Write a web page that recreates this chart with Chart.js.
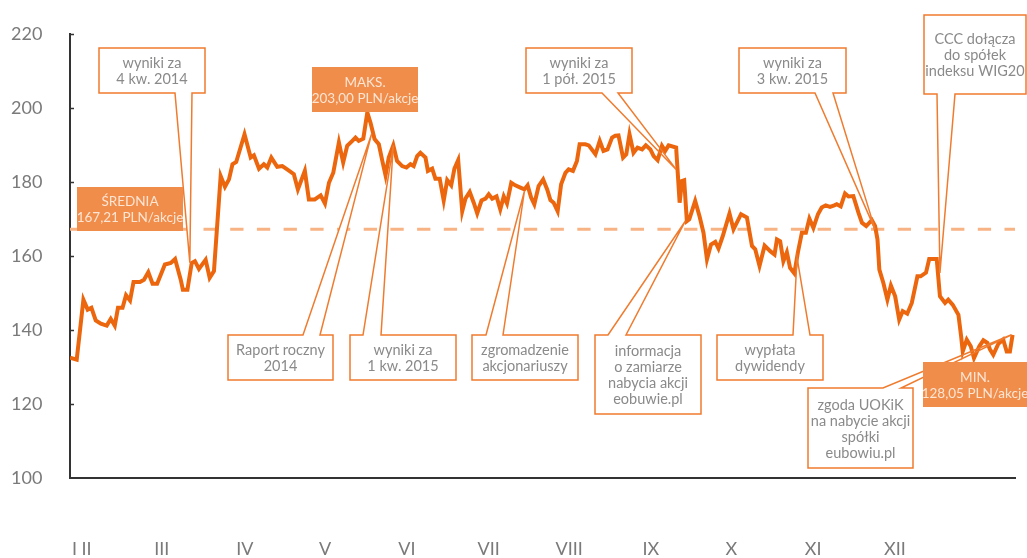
<!DOCTYPE html>
<html>
<head>
<meta charset="utf-8">
<script src="https://cdn.jsdelivr.net/npm/chart.js@4.4.1/dist/chart.umd.min.js"></script>
<style>
  html, body { margin: 0; padding: 0; background: #fff; overflow: hidden; }
  #wrap { width: 1027px; height: 558px; }
</style>
</head>
<body>
<div id="wrap"><canvas id="chart" width="1027" height="558"></canvas></div>
<script>
// Price of CCC shares (PLN) - x is the day of the year (0 = 1 Jan)
const days = [
  24.8, 27.3, 29.8, 31.4, 32.8, 34.4, 36.3, 38.5, 40.0, 41.5,
  42.7, 44.4, 45.7, 47.2, 48.5, 50.9, 52.4, 54.0, 55.6, 57.3,
  60.2, 62.4, 64.0, 66.1, 66.9, 68.6, 70.2, 71.4, 72.9, 75.4,
  76.9, 78.5, 81.0, 82.6, 84.1, 85.4, 86.8, 89.9, 92.2, 93.4,
  95.3, 97.1, 98.4, 99.9, 102.1, 104.0, 105.8, 108.3, 109.8, 112.4,
  113.9, 116.1, 118.3, 119.9, 121.4, 123.0, 125.1, 126.7, 128.2, 130.1,
  131.3, 132.5, 134.2, 135.7, 136.9, 138.4, 140.0, 141.3, 142.5, 143.7,
  145.4, 146.8, 148.7, 150.3, 151.8, 153.0, 154.3, 155.5, 157.4, 158.3,
  159.9, 161.1, 162.7, 164.2, 165.5, 167.0, 168.2, 169.6, 171.1, 172.3,
  173.9, 175.4, 176.7, 178.3, 179.8, 181.0, 182.3, 183.9, 185.3, 186.6,
  187.8, 189.4, 190.9, 192.8, 194.3, 195.5, 196.8, 198.0, 199.6, 201.3,
  202.8, 204.0, 205.2, 206.7, 208.0, 209.6, 210.8, 212.4, 213.9, 214.9,
  217.0, 218.3, 220.8, 222.4, 223.8, 225.3, 227.0, 228.2, 229.4, 231.1,
  232.3, 233.5, 235.0, 236.5, 238.2, 239.6, 241.3, 242.5, 244.0, 245.6,
  246.8, 248.1, 250.9, 252.2, 253.1, 253.9, 254.9, 255.8, 258.0, 259.6,
  261.1, 262.4, 263.9, 265.5, 266.7, 268.3, 270.8, 272.3, 275.1, 277.3,
  279.2, 280.4, 282.0, 283.9, 286.0, 287.6, 288.5, 289.7, 290.9, 292.2,
  293.4, 295.0, 296.3, 297.8, 299.3, 300.6, 302.1, 303.8, 305.2, 306.7,
  308.3, 309.9, 310.8, 312.3, 313.9, 315.2, 317.0, 318.9, 320.2, 321.8,
  323.9, 325.1, 326.0, 326.7, 328.2, 329.7, 331.0, 332.6, 334.1, 335.4,
  337.1, 338.8, 340.9, 342.1, 344.1, 345.3, 348.1, 349.3, 351.2, 352.4,
  354.1, 356.2, 357.2, 357.8, 359.3, 360.8, 362.0, 364.0, 365.5, 367.0,
  368.0, 369.2, 371.1, 372.9, 374.2, 375.4, 376.4
];
const prices = [
  132.5, 132.0, 148.2, 145.5, 146.0, 142.6, 141.7, 141.2, 143.0, 141.2,
  146.0, 146.0, 149.4, 148.0, 153.0, 153.0, 153.6, 155.6, 152.5, 152.5,
  157.7, 158.1, 159.2, 153.6, 150.9, 150.9, 158.1, 158.6, 156.5, 159.0,
  154.1, 155.9, 181.6, 178.7, 180.7, 184.8, 185.4, 192.9, 186.6, 187.2,
  183.6, 184.8, 183.9, 186.6, 184.1, 184.3, 183.4, 182.1, 178.0, 183.0,
  175.3, 175.3, 176.4, 174.2, 179.8, 182.5, 190.7, 185.3, 189.8, 191.1,
  192.0, 191.1, 191.7, 198.8, 196.0, 191.6, 190.2, 185.7, 181.8, 186.6,
  189.9, 185.7, 184.3, 183.9, 184.8, 184.3, 187.0, 187.9, 186.6, 183.0,
  183.6, 180.9, 180.9, 175.0, 180.5, 179.1, 183.6, 185.9, 172.1, 175.5,
  177.3, 174.4, 171.5, 175.0, 175.5, 176.7, 175.5, 176.1, 172.6, 176.1,
  174.2, 179.8, 179.1, 178.5, 178.0, 179.1, 175.8, 174.0, 178.9, 180.7,
  178.0, 175.1, 174.4, 172.1, 179.4, 182.5, 183.4, 183.0, 185.7, 190.2,
  190.2, 189.9, 187.5, 191.1, 188.4, 188.8, 192.0, 192.5, 192.6, 186.6,
  187.5, 192.9, 187.9, 189.3, 188.8, 189.9, 188.8, 187.0, 185.9, 189.8,
  188.4, 189.9, 189.3, 174.4, 180.3, 180.5, 169.4, 169.9, 174.9, 170.8,
  166.3, 159.1, 163.1, 163.8, 162.0, 165.4, 171.5, 167.2, 171.3, 170.4,
  162.7, 161.8, 157.3, 162.8, 161.3, 160.4, 164.5, 164.0, 158.6, 161.0,
  156.8, 155.3, 160.9, 166.3, 166.3, 170.1, 167.6, 171.3, 173.1, 173.7,
  173.3, 173.7, 174.0, 173.4, 176.9, 176.1, 176.2, 171.7, 169.0, 168.1,
  169.7, 168.1, 164.5, 156.3, 152.7, 148.2, 152.0, 149.1, 142.8, 145.1,
  144.4, 147.3, 154.5, 154.5, 155.5, 159.2, 159.2, 149.1, 147.3, 148.2,
  146.8, 144.1, 138.3, 134.2, 137.4, 135.6, 132.4, 135.6, 137.2, 136.5,
  134.7, 133.3, 136.3, 137.4, 134.2, 134.2, 138.7
];
const avgPrice = 167.21;

// axes
const dayMin = 24.8, dayMax = 377.3;
const monthDays = [26.5, 31.0, 59, 90, 120, 150.5, 181, 211, 241.5, 271.5, 302, 332.5];
const monthLabels = ['I', 'II', 'III', 'IV', 'V', 'VI', 'VII', 'VIII', 'IX', 'X', 'XI', 'XII'];
const yMin = 100, yMax = 220, yStep = 20;

// white callouts: text, box (px) and the point (day, price) they point at
const callouts = [
  { lines: ['wyniki za', '4 kw. 2014'], box: [99, 48, 106, 45], base: [175, 192], side: 'bottom', at: [69.5, 158.2] },
  { lines: ['Raport roczny', '2014'], box: [228, 335, 105, 45], base: [303, 320], side: 'top', at: [137.3, 193.0] },
  { lines: ['wyniki za', '1 kw. 2015'], box: [350, 335, 106, 45], base: [363, 381], side: 'top', at: [145.4, 189.9] },
  { lines: ['zgromadzenie', 'akcjonariuszy'], box: [472, 335, 106, 45], base: [486, 503], side: 'top', at: [194.3, 177.5] },
  { lines: ['informacja', 'o zamiarze', 'nabycia akcji', 'eobuwie.pl'], box: [595, 335, 106, 79], base: [608, 626], side: 'top', at: [254.3, 169.4] },
  { lines: ['wyniki za', '1 pół. 2015'], box: [526, 48, 106, 45], base: [602, 618], side: 'bottom', at: [250.9, 183.4] },
  { lines: ['wypłata', 'dywidendy'], box: [717, 335, 106, 45], base: [793, 810], side: 'top', at: [296.0, 159.6] },
  { lines: ['wyniki za', '3 kw. 2015'], box: [739, 48, 107, 45], base: [815, 833], side: 'bottom', at: [325.1, 167.2] },
  { lines: ['CCC dołącza', 'do spółek', 'indeksu WIG20'], box: [924, 15, 102, 79], base: [937, 955], side: 'bottom', at: [349.3, 155.4] },
  { lines: ['zgoda UOKiK', 'na nabycie akcji', 'spółki', 'eubowiu.pl'], box: [808, 388, 105, 80], base: [883, 901], side: 'top', at: [376.0, 138.7] }
];

// orange filled tags
const tags = [
  { lines: ['MAKS.', '203,00 PLN/akcje'], box: [312, 67, 106, 45] },
  { lines: ['ŚREDNIA', '167,21 PLN/akcje'], box: [77, 187, 106, 44] },
  { lines: ['MIN.', '128,05 PLN/akcje'], box: [923, 362, 104, 45] }
];

const ORANGE = '#EC660E';
const FONT = 'Lato, "Open Sans", sans-serif';

function calloutPath(ctx, c, ax, ay) {
  const [x, y, w, h] = c.box;
  const [b1, b2] = c.base;
  ctx.beginPath();
  if (c.side === 'top') {
    ctx.moveTo(x, y);
    ctx.lineTo(b1, y);
    ctx.lineTo(ax, ay);
    ctx.lineTo(b2, y);
    ctx.lineTo(x + w, y);
    ctx.lineTo(x + w, y + h);
    ctx.lineTo(x, y + h);
  } else {
    ctx.moveTo(x, y);
    ctx.lineTo(x + w, y);
    ctx.lineTo(x + w, y + h);
    ctx.lineTo(b2, y + h);
    ctx.lineTo(ax, ay);
    ctx.lineTo(b1, y + h);
    ctx.lineTo(x, y + h);
  }
  ctx.closePath();
}

function drawLines(ctx, lines, box, color, size) {
  const [x, y, w, h] = box;
  const lh = 16;
  const cy = y + h / 2 + 1;
  ctx.fillStyle = color;
  ctx.font = size + 'px ' + FONT;
  ctx.textAlign = 'center';
  ctx.textBaseline = 'middle';
  lines.forEach((t, i) => {
    ctx.fillText(t, x + w / 2, cy + (i - (lines.length - 1) / 2) * lh);
  });
}

const annotations = {
  id: 'annotations',
  // white bodies go under the price line
  afterDatasetDraw(chart, args) {
    if (args.index !== 1) return;
    const ctx = chart.ctx;
    const xs = chart.scales.x, ys = chart.scales.y;
    ctx.save();
    ctx.fillStyle = '#fff';
    callouts.forEach(c => {
      calloutPath(ctx, c, xs.getPixelForValue(c.at[0]), ys.getPixelForValue(c.at[1]));
      ctx.fill();
    });
    ctx.restore();
  },
  afterDatasetsDraw(chart) {
    const ctx = chart.ctx;
    const xs = chart.scales.x, ys = chart.scales.y;
    ctx.save();
    // small inner tick marks on the value axis
    ctx.strokeStyle = '#333';
    ctx.lineWidth = 1.5;
    for (let v = yMin + yStep; v <= yMax; v += yStep) {
      const py = Math.round(ys.getPixelForValue(v)) + 0.5;
      ctx.beginPath();
      ctx.moveTo(xs.left, py);
      ctx.lineTo(xs.left + 4, py);
      ctx.stroke();
    }
    ctx.strokeStyle = '#EF7B2E';
    ctx.lineWidth = 1.5;
    ctx.lineJoin = 'miter';
    callouts.forEach(c => {
      calloutPath(ctx, c, xs.getPixelForValue(c.at[0]), ys.getPixelForValue(c.at[1]));
      ctx.stroke();
      drawLines(ctx, c.lines, c.box, '#8a8a8a', 14.5);
    });
    tags.forEach(t => {
      const [x, y, w, h] = t.box;
      ctx.fillStyle = '#F08D4B';
      ctx.fillRect(x, y, w, h);
      drawLines(ctx, t.lines, t.box, '#FDE5D4', 13.5);
    });
    ctx.restore();
  }
};

new Chart(document.getElementById('chart'), {
  type: 'line',
  data: {
    datasets: [
      {
        label: 'CCC',
        data: days.map((d, i) => ({ x: d, y: prices[i] })),
        borderColor: ORANGE,
        borderWidth: 4,
        pointRadius: 0,
        tension: 0,
        fill: false
      },
      {
        label: 'średnia',
        data: [{ x: dayMin, y: avgPrice }, { x: dayMax, y: avgPrice }],
        borderColor: '#F8B384',
        borderWidth: 3,
        borderDash: [13.3, 13.4],
        pointRadius: 0,
        fill: false
      }
    ]
  },
  options: {
    responsive: false,
    animation: false,
    devicePixelRatio: 1,
    layout: { padding: { top: 34, right: 12, left: 11, bottom: 0 } },
    plugins: { legend: { display: false }, tooltip: { enabled: false } },
    scales: {
      x: {
        type: 'linear',
        min: dayMin,
        max: dayMax,
        afterBuildTicks: s => { s.ticks = monthDays.map(v => ({ value: v })); },
        afterFit: s => { s.height = 80; },
        grid: { display: false, drawTicks: false },
        border: { display: true, color: '#333', width: 2 },
        ticks: {
          autoSkip: false,
          maxRotation: 0,
          padding: 60,
          color: '#7a7a7a',
          font: { family: FONT, size: 18 },
          callback: (v, i) => monthLabels[i]
        }
      },
      y: {
        min: yMin,
        max: yMax,
        afterFit: s => { s.width = 59; },
        grid: { display: false, drawTicks: false },
        border: { display: true, color: '#333', width: 2 },
        ticks: {
          stepSize: yStep,
          padding: 0,
          crossAlign: 'far',
          color: '#7a7a7a',
          font: { family: FONT, size: 18 }
        }
      }
    }
  },
  plugins: [annotations]
});
</script>
</body>
</html>
